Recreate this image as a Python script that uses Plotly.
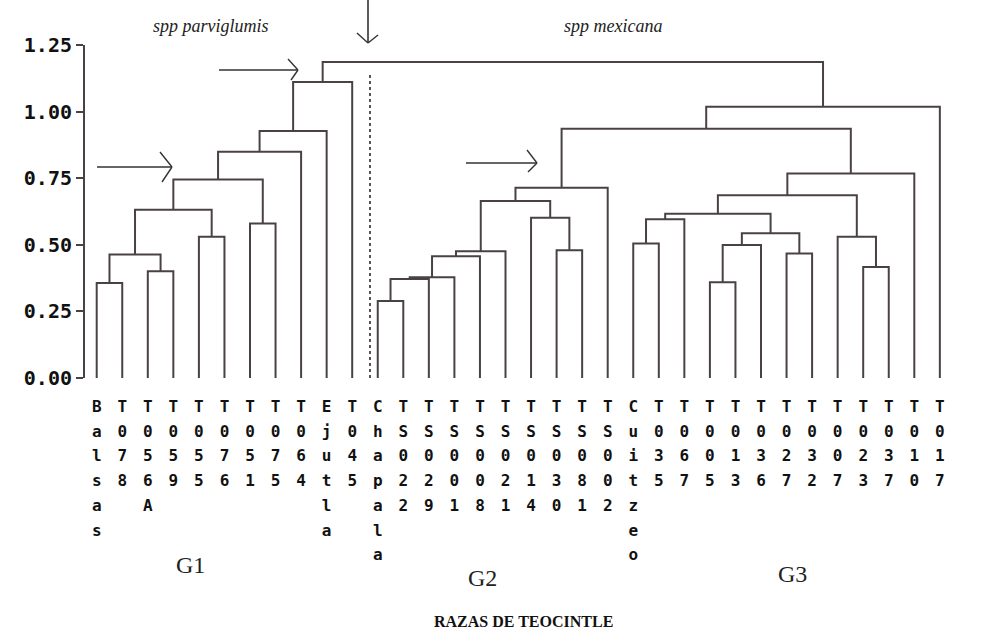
import plotly.graph_objects as go

# ---------------- data ----------------
leaf_labels = [
    "Balsas", "T078", "T056A", "T059", "T055", "T076", "T051", "T075", "T064", "Ejutla", "T045",
    "Chapala", "TS022", "TS029", "TS001", "TS008", "TS021", "TS014", "TS030", "TS081", "TS002",
    "Cuitzeo", "T035", "T067", "T005", "T013", "T036", "T027", "T032", "T007", "T023", "T037", "T010", "T017",
]
# merges (scipy-like): node ids >= number of leaves refer to earlier merges
merge_left = [11, 24, 0, 34, 37, 2, 30, 38, 36, 27, 41, 18, 35, 21, 4, 29, 46, 6, 47, 17,
              52, 42, 44, 54, 56, 55, 57, 59, 61, 58, 63, 62, 65]
merge_right = [12, 25, 1, 13, 14, 3, 31, 15, 39, 28, 16, 19, 26, 22, 5, 40, 43, 7, 23, 45,
               50, 48, 53, 49, 20, 51, 32, 8, 9, 60, 33, 10, 64]
merge_height = [0.289, 0.359, 0.357, 0.372, 0.378, 0.401, 0.417, 0.457, 0.464, 0.467,
                0.476, 0.480, 0.499, 0.505, 0.530, 0.530, 0.543, 0.580, 0.596, 0.602,
                0.617, 0.632, 0.664, 0.686, 0.714, 0.745, 0.768, 0.849, 0.927, 0.936,
                1.018, 1.111, 1.186]
y_ticks = [0.0, 0.25, 0.50, 0.75, 1.00, 1.25]
y_tick_labels = ["0.00", "0.25", "0.50", "0.75", "1.00", "1.25"]
group_labels = ["G1", "G2", "G3"]
subspecies = ["spp parviglumis", "spp mexicana"]
x_title = "RAZAS DE TEOCINTLE"
cut_height = 1.145

# ---------------- layout helpers ----------------
W, H = 983, 635
L, R, T, B = 85, 23, 45, 257
PW, PH = W - L - R, H - T - B
STEP = 25.55
XMIN = -(96.7 - L) / STEP
XMAX = XMIN + PW / STEP


def px(x):
    return (x - L) / PW


def py(y):
    return (H - B - y) / PH


# ---------------- dendrogram geometry ----------------
n = len(leaf_labels)
pos = {i: float(i) for i in range(n)}
hgt = {i: 0.0 for i in range(n)}
xs, ys = [], []
for k, (a, b, h) in enumerate(zip(merge_left, merge_right, merge_height)):
    xa, xb = pos[a], pos[b]
    xs += [xa, xa, xb, xb, None]
    ys += [hgt[a], h, h, hgt[b], None]
    pos[n + k] = (xa + xb) / 2
    hgt[n + k] = h

LINE = "#4a4242"
fig = go.Figure()
fig.add_trace(go.Scatter(x=xs, y=ys, mode="lines",
                         line=dict(color=LINE, width=2), hoverinfo="skip",
                         showlegend=False))

ticktext = ["<br>".join(f"<span style='font-size:16px'>{c}</span>" for c in lab)
            for lab in leaf_labels]

shapes = []
# cut line (dotted)
cut_x = (370 - 96.7) / STEP
shapes.append(dict(type="line", xref="x", yref="y", x0=cut_x, x1=cut_x, y0=0, y1=cut_height,
                   line=dict(color="#555555", width=2, dash="dot")))


def arrow(p0, p1, h1, h2):
    out = [dict(type="line", xref="paper", yref="paper",
                x0=px(p0[0]), y0=py(p0[1]), x1=px(p1[0]), y1=py(p1[1]),
                line=dict(color="#333333", width=1.6))]
    for hp in (h1, h2):
        out.append(dict(type="line", xref="paper", yref="paper",
                        x0=px(hp[0]), y0=py(hp[1]), x1=px(p1[0]), y1=py(p1[1]),
                        line=dict(color="#333333", width=1.4)))
    return out


shapes += arrow((219, 70), (298, 70), (288, 59), (291, 80))
shapes += arrow((97, 167), (172, 167), (160, 152), (162, 182))
shapes += arrow((466, 163), (537, 163), (527, 150), (528, 172))
shapes += arrow((368, 0), (368, 43), (357, 33), (378, 35))

annotations = []
for txt, x in zip(subspecies, [211, 613]):
    annotations.append(dict(text=txt, x=px(x), y=py(26), xref="paper", yref="paper",
                            showarrow=False, xanchor="center", yanchor="middle",
                            font=dict(family="Liberation Serif", size=18, color="#222222",
                                      style="italic")))
for txt, (x, y) in zip(group_labels, [(190, 565), (482, 578), (792, 574)]):
    annotations.append(dict(text=txt, x=px(x), y=py(y), xref="paper", yref="paper",
                            showarrow=False, xanchor="center", yanchor="middle",
                            font=dict(family="Liberation Serif", size=24, color="#222222")))
annotations.append(dict(text=x_title, x=px(523), y=py(621), xref="paper", yref="paper",
                        showarrow=False, xanchor="center", yanchor="middle",
                        font=dict(family="Liberation Serif", size=16, color="#111111",
                                  weight="bold")))

fig.update_layout(
    width=W, height=H,
    margin=dict(l=L, r=R, t=T, b=B, pad=0),
    paper_bgcolor="white", plot_bgcolor="white",
    shapes=shapes, annotations=annotations,
    xaxis=dict(range=[XMIN, XMAX], tickvals=list(range(n)), ticktext=ticktext,
               showgrid=False, zeroline=False, showline=False, ticks="",
               ticklabelstandoff=14, tickangle=0, automargin=False,
               tickfont=dict(family="DejaVu Sans Mono", size=19, color="#111111",
                             weight="bold")),
    yaxis=dict(range=[0, 1.25], tickvals=y_ticks, ticktext=y_tick_labels,
               showgrid=False, zeroline=False, showline=True, linecolor=LINE,
               linewidth=2, ticks="outside", ticklen=7, tickwidth=2, tickcolor=LINE,
               automargin=False,
               tickfont=dict(family="DejaVu Sans Mono", size=20, color="#111111",
                             weight="bold")),
)

fig.write_html("out.html", config={"displayModeBar": False},
               post_script="document.body.style.margin='0';document.body.style.overflow='hidden';")
